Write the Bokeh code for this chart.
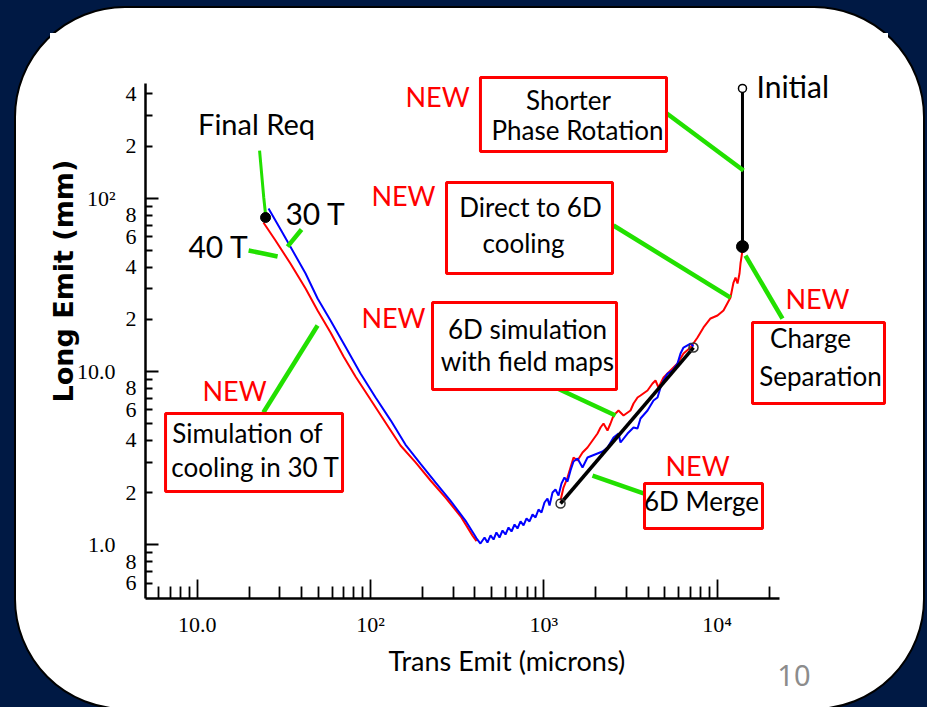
import base64

from bokeh.core.properties import value
from bokeh.embed import file_html
from bokeh.models import CustomJSTickFormatter, FixedTicker, LogAxis, Title
from bokeh.plotting import figure
from bokeh.resources import INLINE

# ------------------------------------------------------------------ data
# Transverse emittance in microns, longitudinal emittance in mm.

# Final cooling in 30 T solenoids, red track
red30_trans = [24.1, 28.3, 34.5, 42.2, 49.5, 58.8, 69.9, 81.9, 100, 122, 149,
               182, 222, 271, 331, 388, 409]
red30_long = [72.4, 57.0, 42.0, 30.1, 22.5, 16.8, 12.2, 9.36, 6.89, 5.08, 3.74,
              2.99, 2.35, 1.87, 1.46, 1.13, 1.05]

# Blue track: 30 T cooling joined to the 6D simulation with field maps
blue_trans = [25.8, 30.3, 35.5, 42.2, 49.5, 58.8, 71.7, 87.6, 107, 131, 159, 194,
              237, 289, 353, 409, 431, 455, 473, 493, 513, 533, 555, 578, 601,
              626, 651, 678, 705, 734, 764, 795, 827, 861, 896, 932, 970, 1009,
              1050, 1079, 1123, 1168, 1216, 1265, 1316, 1370, 1426, 1484, 1565,
              1673, 1787, 1910, 2041, 2182, 2331, 2525, 2698, 2771, 3041, 3294,
              3474, 3614, 3967, 4296, 4531, 4716, 4908, 5174, 5529, 5908, 6149,
              6399, 7024, 7310]
blue_long = [87.2, 66.0, 49.9, 36.8, 26.4, 19.7, 13.9, 9.74, 7.08, 5.21, 3.79,
             2.94, 2.29, 1.80, 1.38, 1.09, 1.017, 1.102, 1.031, 1.132, 1.073,
             1.178, 1.102, 1.209, 1.147, 1.259, 1.193, 1.310, 1.242, 1.364,
             1.293, 1.419, 1.364, 1.496, 1.438, 1.598, 1.536, 1.754, 1.850,
             1.685, 2.003, 2.084, 1.926, 2.258, 2.445, 2.317, 2.684, 3.025,
             3.148, 2.793, 3.190, 3.277, 3.365, 3.456, 3.643, 4.161, 4.387,
             3.893, 4.387, 4.753, 4.690, 5.356, 5.957, 6.802, 7.079, 8.086,
             8.873, 9.738, 10.13, 11.12, 12.70, 13.75, 14.50, 13.94]

# Red track: direct 6D cooling down from the charge-separation point
red6d_trans = [1249, 1299, 1370, 1426, 1484, 1565, 1673, 1787, 1910, 2041, 2125,
               2211, 2331, 2426, 2525, 2698, 2884, 3164, 3294, 3474, 3614, 3967,
               4239, 4410, 4591, 4908, 5384, 5908, 6399, 7024, 7708, 8348, 9161,
               10053, 10886, 11948, 12434, 12770, 13115, 13469, 13646, 14010]
red6d_long = [1.801, 2.141, 2.445, 2.793, 3.190, 3.066, 3.410, 3.643, 3.997,
              4.387, 4.753, 5.011, 4.566, 5.011, 5.571, 5.957, 5.571, 5.957,
              6.537, 7.079, 7.271, 7.771, 8.527, 8.873, 8.086, 9.234, 10.13,
              11.12, 12.70, 13.75, 15.71, 17.95, 20.23, 21.05, 22.49, 26.73,
              32.62, 34.86, 32.19, 36.77, 42.01, 49.91]

# Front end: initial beam and charge separation
front_trans = [14010, 14010]
front_long = [430, 52.6]

# 6D merge stage
merge_trans = [1249, 7310]
merge_long = [1.731, 13.75]

# Final requirement
final_req_trans = [24.8]
final_req_long = [77.4]

# Axis ticks
x_decades = [10, 100, 1000, 10000]
x_decade_labels = ["10.0", "10²", "10³", "10⁴"]
x_minor = [6, 7, 8, 9, 20, 30, 40, 50, 60, 70, 80, 90, 200, 300, 400, 500, 600,
           700, 800, 900, 2000, 3000, 4000, 5000, 6000, 7000, 8000, 9000, 20000]
y_decades = [1, 10, 100]
y_decade_labels = ["1.0", "10.0", "10²"]
y_sub = [0.6, 0.8, 2, 4, 6, 8, 20, 40, 60, 80, 200, 400]
y_sub_labels = ["6", "8", "2", "4", "6", "8", "2", "4", "6", "8", "2", "4"]
y_minor = [0.6, 0.7, 0.8, 0.9, 2, 3, 4, 5, 6, 7, 8, 9, 20, 30, 40, 50, 60, 70,
           80, 90, 200, 300, 400]

# Annotation boxes (data coordinates)
box_left = [431, 274.5, 227.9, 16005, 3811, 6.565]
box_right = [5106, 2491, 2627, 92460, 18280, 68.94]
box_top = [497.2, 123.2, 25.02, 19.17, 2.258, 5.723]
box_bottom = [186.0, 36.78, 7.874, 6.537, 1.242, 2.030]

box_text = ["Shorter", "Phase Rotation", "Direct to 6D", "cooling",
            "6D simulation", "with field maps", "Charge", "Separation",
            "6D Merge", "Simulation of", "cooling in 30 T"]
box_text_trans = [1389, 1565, 838, 764, 805, 805, 34600, 39510, 8128, 19.5, 21.7]
box_text_long = [371.1, 249.1, 89.57, 55.52, 17.48, 11.57, 15.71, 9.483, 1.778,
                 4.446, 2.830]

new_trans = [243.6, 155.0, 135.7, 16.42, 7708, 37960]
new_long = [386.3, 103.7, 20.49, 7.771, 2.869, 26.38]

# Leader lines from labels to the tracks
final_leader_trans = [22.9, 24.2, 24.8]
final_leader_long = [188.5, 101.3, 80.5]
leader_trans = [[40.0, 33.2], [19.8, 24.1, 29.1], [24.1, 49.5], [5039, 14200],
                [2525, 11948], [14580, 23840], [1200, 2593], [1910, 3761]]
leader_long = [[66.0, 52.6], [49.9, 48.0, 46.1], [5.80, 18.43], [312.2, 144.5],
               [69.6, 26.7], [46.7, 20.2], [7.98, 5.57], [2.51, 1.98]]

NAVY = "#001944"
RED = "#ff0000"
BLUE = "#0000ff"
GREEN = "#22e000"
TICK_FONT = "Liberation Serif"
NOTE_FONT = "Lato"

# ---------------------------------------------------------------- figure
p = figure(width=927, height=707, x_axis_type="log", y_axis_type="log",
           x_range=(5.0306, 96222), y_range=(0.48991, 631.7),
           output_backend="svg", toolbar_location=None,
           min_border_left=145, min_border_right=40,
           min_border_top=59, min_border_bottom=109,
           border_fill_color=None, background_fill_color="white",
           outline_line_color=None)
p.grid.visible = False

# slide backdrop: navy page with a rounded white card
bg_svg = (
    "<svg xmlns='http://www.w3.org/2000/svg' width='927' height='707'>"
    f"<rect width='927' height='707' fill='{NAVY}'/>"
    "<rect x='15' y='7' width='909' height='702' rx='110' ry='110' "
    "fill='white' stroke='black' stroke-width='2'/>"
    "<rect x='50' y='33' width='838' height='645' fill='white'/>"
    "</svg>"
)
bg_uri = "data:image/svg+xml;base64," + base64.b64encode(bg_svg.encode()).decode()
p.styles = {"background-image": f"url('{bg_uri}')", "background-repeat": "no-repeat"}


def label_axis(ticks, labels, standoff):
    """Axis that only carries tick labels (no line, no tick marks)."""
    return LogAxis(ticker=FixedTicker(ticks=ticks, minor_ticks=[]),
                   major_label_overrides=dict(zip(ticks, labels)),
                   major_label_standoff=standoff,
                   major_label_text_font=TICK_FONT,
                   major_label_text_font_size="22px",
                   major_label_text_color="black",
                   axis_line_color=None, major_tick_line_color=None,
                   minor_tick_line_color=None, major_tick_in=0,
                   major_tick_out=0, minor_tick_in=0, minor_tick_out=0)


# x axis: ticks and decade labels
xa = p.xaxis[0]
xa.ticker = FixedTicker(ticks=x_decades, minor_ticks=x_minor)
xa.major_label_overrides = dict(zip(x_decades, x_decade_labels))
xa.bounds = (5.0306, 23000)
xa.axis_line_width = 2.5
xa.axis_line_color = "black"
xa.major_tick_in, xa.major_tick_out = 19, 0
xa.minor_tick_in, xa.minor_tick_out = 12, 0
xa.major_tick_line_width = 1.8
xa.minor_tick_line_width = 1.8
xa.major_tick_line_color = "black"
xa.minor_tick_line_color = "black"
xa.major_label_text_font = TICK_FONT
xa.major_label_text_font_size = "22px"
xa.major_label_text_color = "black"
xa.major_label_standoff = 13

# y axis: line and ticks (long ticks at decades)
ya = p.yaxis[0]
ya.ticker = FixedTicker(ticks=y_decades, minor_ticks=y_minor)
ya.formatter = CustomJSTickFormatter(code="return ''")
ya.bounds = (0.48991, 460)
ya.axis_line_width = 2.5
ya.axis_line_color = "black"
ya.major_tick_in, ya.major_tick_out = 13, 0
ya.minor_tick_in, ya.minor_tick_out = 7, 0
ya.major_tick_line_width = 1.8
ya.minor_tick_line_width = 1.8
ya.major_tick_line_color = "black"
ya.minor_tick_line_color = "black"
ya.major_label_standoff = 0

# y labels 2/4/6/8 next to the axis, decade labels further out
p.add_layout(label_axis(y_sub, y_sub_labels, 9), "left")
p.add_layout(label_axis(y_decades, y_decade_labels, 7), "left")

# axis titles and the slide's page number
p.add_layout(Title(text="Trans Emit (microns)", align="left", offset=243,
                   vertical_align="top", standoff=8, text_font=NOTE_FONT,
                   text_font_size="27px", text_font_style="normal",
                   text_color="black"), "below")
p.add_layout(Title(text="10", align="right", offset=77, vertical_align="top",
                   standoff=-36, text_font="Noto Sans", text_font_size="29px",
                   text_font_style="normal", text_color="#8c8c8c"), "below")
p.add_layout(Title(text="Long Emit (mm)", align="left", offset=196,
                   vertical_align="bottom", standoff=-10, text_font="DejaVu Sans",
                   text_font_size="27px", text_font_style="bold",
                   text_color="black"), "left")

# ---------------------------------------------------------------- tracks
p.line(red30_trans, red30_long, line_color=RED, line_width=2)
p.line(red6d_trans, red6d_long, line_color=RED, line_width=2)
p.line(blue_trans, blue_long, line_color=BLUE, line_width=2)
p.line(front_trans, front_long, line_color="black", line_width=3)
p.line(merge_trans, merge_long, line_color="black", line_width=3.5)

# leaders
p.line(final_leader_trans, final_leader_long, line_color=GREEN, line_width=3)
p.multi_line(xs=leader_trans, ys=leader_long, line_color=GREEN, line_width=4.5)

# markers
p.scatter(final_req_trans, final_req_long, size=10, color="black")
p.scatter(front_trans[1:], front_long[1:], size=12, color="black")
p.scatter(front_trans[:1], front_long[:1], size=8, fill_color="white",
          line_color="black", line_width=1.5)
p.scatter(merge_trans, merge_long, size=9, fill_alpha=0, line_color="#333333",
          line_width=1.5)

# annotation boxes and their texts
p.quad(left=box_left, right=box_right, top=box_top, bottom=box_bottom,
       fill_color="white", line_color=RED, line_width=3)
p.text(x=box_text_trans, y=box_text_long, text=box_text,
       text_font=value(NOTE_FONT), text_font_size=value("26px"),
       text_align="center", text_baseline="alphabetic", text_color="black")
p.text(x=new_trans, y=new_long, text=["NEW"] * len(new_trans),
       text_font=value(NOTE_FONT), text_font_size=value("27px"),
       text_align="center", text_baseline="alphabetic", text_color=RED)
p.text(x=[21.99], y=[271.6], text=["Final Req"], text_font=value(NOTE_FONT),
       text_font_size=value("29px"), text_align="center",
       text_baseline="alphabetic", text_color="black")
p.text(x=[48.15, 13.27], y=[82.15, 53.35], text=["30 T", "40 T"],
       text_font=value(NOTE_FONT), text_font_size=value("30px"),
       text_align="center", text_baseline="alphabetic", text_color="black")
p.text(x=[16880], y=[447.1], text=["Initial"], text_font=value(NOTE_FONT),
       text_font_size=value("30px"), text_align="left",
       text_baseline="alphabetic", text_color="black")

open("out.html", "w").write(file_html(p, INLINE))
